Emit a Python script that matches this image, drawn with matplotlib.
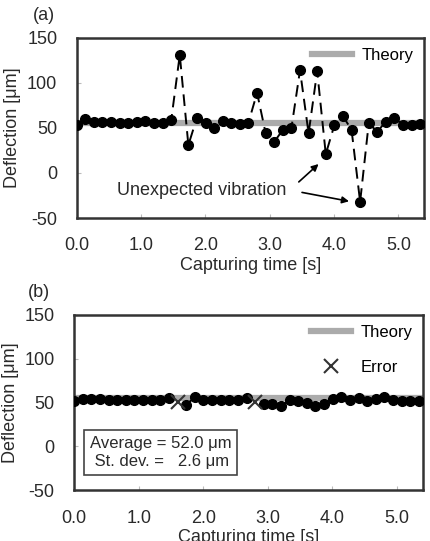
#importing required libraries
import numpy as np
import matplotlib.pyplot as plt

plt.rcParams['font.family'] = ['Liberation Sans', 'DejaVu Sans']
plt.rcParams['axes.unicode_minus'] = False

#frame interval of the camera [s] and number of frames
frame_dt = 0.1335
n_frames = 41
t = np.arange(n_frames) * frame_dt

#theoretical deflection [um]
theory = 55

#(a) measured deflection without error handling [um]
defl_a = [53, 60, 57, 57, 57, 55, 56, 57, 58, 56, 56, 58.5, 131, 31,
          61.5, 56, 50, 58, 56, 54, 56, 89, 44, 34.5, 48, 50, 114, 44,
          113, 21, 53, 63, 48, -32, 55, 46, 57, 61.5, 53, 53, 54]

#(b) measured deflection with error handling [um], None where an error was flagged
defl_b = [52, 54.5, 54, 54, 53, 53, 53, 53, 53, 53, 53, 55.6, None, 47,
          56.4, 53, 52.6, 53, 53, 53, 55.6, None, 48.8, 48, 45.7, 52.6, 51.8, 49,
          45.7, 48, 54.5, 56.4, 53, 55.6, 51.8, 54.5, 56.4, 53, 51.8, 51.8, 51.8]
err_idx = [12, 21]
err_val = [50.6, 50.6]

#unexpected vibration points pointed at in (a)
vib_idx = [29, 33]

xticks = [0, 1, 2, 3, 4, 5]
xticklabels = ['0.0', '1.0', '2.0', '3.0', '4.0', '5.0']
yticks = [-50, 0, 50, 100, 150]
yticklabels = ['-50', '0', '50', '100', '150']

fig = plt.figure(figsize=(4.31, 5.41), dpi=100)
ax_a = fig.add_axes([0.178, 0.597, 0.806, 0.333])
ax_b = fig.add_axes([0.172, 0.094, 0.809, 0.324])

gray = '#ababab'
dark = '#2a2a2a'

def style_axes(ax):
    ax.set_xlim(0, 5.4)
    ax.set_ylim(-50, 150)
    ax.set_xticks(xticks)
    ax.set_xticklabels(xticklabels)
    ax.set_yticks(yticks)
    ax.set_yticklabels(yticklabels)
    ax.tick_params(direction='in', length=3, width=0.8, color='#bbbbbb',
                   labelsize=13, labelcolor=dark, pad=14)
    for s in ax.spines.values():
        s.set_linewidth(1.8)
        s.set_color('#333333')
    ax.set_xlabel('Capturing time [s]', fontsize=13, color=dark, labelpad=2)
    ax.set_ylabel('Deflection [\u03bcm]', fontsize=13, color=dark, labelpad=4)

#panel (a)
ax_a.axhline(theory, color=gray, lw=4.5, label='Theory', zorder=1)
ax_a.plot(t, defl_a, color='black', ls=(0, (6, 3.5)), lw=1.4, marker='o',
          ms=7, zorder=3)
style_axes(ax_a)
ax_a.legend(loc='upper right', frameon=False, fontsize=12, handlelength=2.4,
            borderaxespad=0.2, handletextpad=0.6)
txt_x, txt_y = 0.62, -19
ax_a.text(txt_x, txt_y, 'Unexpected vibration', fontsize=13, color=dark,
          va='center', ha='left')
ax_a.annotate('', xy=(t[vib_idx[0]] - 0.08, defl_a[vib_idx[0]] - 9),
              xytext=(3.42, -12),
              arrowprops=dict(arrowstyle='-|>', color='black', lw=1.2,
                              mutation_scale=10))
ax_a.annotate('', xy=(t[vib_idx[1]] - 0.13, defl_a[vib_idx[1]]),
              xytext=(3.46, -21),
              arrowprops=dict(arrowstyle='-|>', color='black', lw=1.2,
                              mutation_scale=10))
fig.text(0.077, 0.987, '(a)', fontsize=13, color=dark, va='top', ha='left')

#panel (b)
ax_b.axhline(theory, color=gray, lw=4.5, label='Theory', zorder=1)
defl_b_arr = np.array([np.nan if v is None else v for v in defl_b], dtype=float)
ax_b.plot(t, defl_b_arr, color='black', ls=(0, (6, 3.5)), lw=1.4, marker='o',
          ms=7, zorder=3)
ax_b.plot(t[err_idx], err_val, ls='none', marker='x', ms=10, mew=1.5,
          color='#333333', label='Error', zorder=4)
style_axes(ax_b)
ax_b.legend(loc='upper right', frameon=False, fontsize=12, handlelength=2.4,
            borderaxespad=0.2, handletextpad=0.6, labelspacing=1.2)
ax_b.text(0.045, 0.215, 'Average = 52.0 \u03bcm\n St. dev. =   2.6 \u03bcm',
          transform=ax_b.transAxes, fontsize=12, color=dark, va='center',
          ha='left', linespacing=1.3,
          bbox=dict(boxstyle='square,pad=0.35', fc='white', ec='#444444', lw=1.2))
fig.text(0.065, 0.475, '(b)', fontsize=13, color=dark, va='top', ha='left')

#saving the generated plot
fig.savefig('out.png', dpi=100)
